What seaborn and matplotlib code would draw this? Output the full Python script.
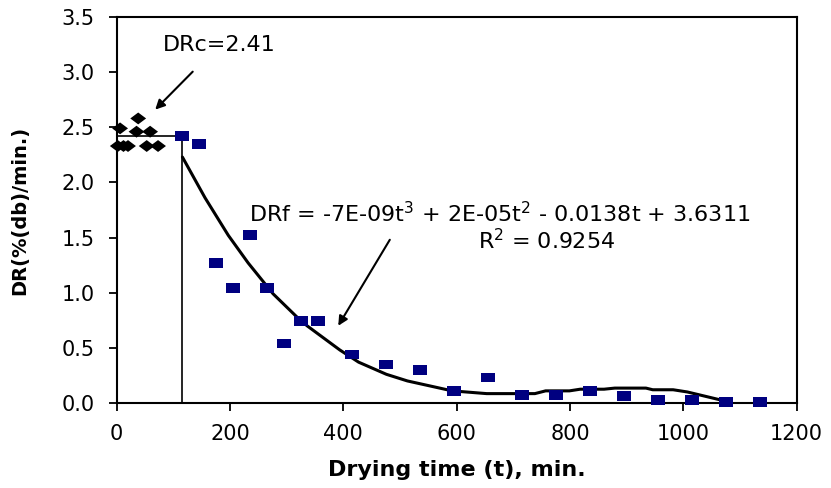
import matplotlib
matplotlib.use("Agg")
import matplotlib.pyplot as plt
from matplotlib.ticker import FormatStrFormatter
import seaborn as sns
import pandas as pd

# -------------------------------
# Data
# -------------------------------
# constant-rate period (diamonds)
t_const = [2, 12, 20, 6, 35, 59, 38, 53, 73]
dr_const = [2.33, 2.33, 2.33, 2.49, 2.46, 2.46, 2.58, 2.33, 2.33]

# falling-rate period (squares)
t_fall = [115, 145, 175, 205, 235, 265, 295, 325, 355, 415, 475, 535,
          595, 655, 715, 775, 835, 895, 955, 1015, 1075, 1135]
dr_fall = [2.42, 2.35, 1.27, 1.04, 1.52, 1.04, 0.54, 0.745, 0.745, 0.44,
           0.35, 0.30, 0.11, 0.23, 0.07, 0.07, 0.11, 0.06, 0.03, 0.03,
           0.01, 0.01]

# fitted falling-rate curve
t_fit = [116, 156, 197, 232, 276, 318, 336, 394, 427, 476, 513, 592, 653,
         738, 757, 799, 818, 860, 879, 934, 946, 982, 1007, 1080]
dr_fit = [2.23, 1.86, 1.52, 1.27, 0.99, 0.78, 0.70, 0.48, 0.37, 0.26, 0.20,
          0.11, 0.085, 0.085, 0.11, 0.11, 0.125, 0.125, 0.135, 0.135, 0.12,
          0.12, 0.10, 0.01]

x_ticks = [0, 200, 400, 600, 800, 1000, 1200]
y_ticks = [0.0, 0.5, 1.0, 1.5, 2.0, 2.5, 3.0, 3.5]

df_const = pd.DataFrame({"t": t_const, "DR": dr_const})
df_fall = pd.DataFrame({"t": t_fall, "DR": dr_fall})
df_fit = pd.DataFrame({"t": t_fit, "DR": dr_fit})

# -------------------------------
# Figure
# -------------------------------
sns.set_style("white")
plt.rcParams["font.family"] = ["DejaVu Sans"]
plt.rcParams["text.color"] = "black"
plt.rcParams["axes.labelcolor"] = "black"

fig = plt.figure(figsize=(8.31, 4.88), dpi=100)
ax = fig.add_axes([0.1404, 0.1742, 0.8183, 0.7910])

diamond = [(-1, 0), (0, 0.75), (1, 0), (0, -0.75)]
rect = [(-1, -0.72), (1, -0.72), (1, 0.72), (-1, 0.72)]

sns.lineplot(data=df_fit, x="t", y="DR", color="black", linewidth=2.2,
             ax=ax, zorder=2)
sns.scatterplot(data=df_const, x="t", y="DR", marker=diamond, s=130,
                color="black", edgecolor="none", ax=ax, zorder=3,
                clip_on=False)
sns.scatterplot(data=df_fall, x="t", y="DR", marker=rect, s=95,
                color="#000080", edgecolor="none", ax=ax, zorder=3,
                clip_on=False)

# critical point lines
drc_t = t_fall[0]
drc_y = dr_fall[0]
ax.plot([0, drc_t], [drc_y, drc_y], color="black", linewidth=1.2, zorder=1)
ax.plot([drc_t, drc_t], [0, drc_y], color="black", linewidth=1.2, zorder=1)

# annotations
ax.annotate("DRc=2.41", xy=(68, 2.66), xytext=(82, 3.25),
            fontsize=16, va="center", ha="left", color="black",
            arrowprops=dict(arrowstyle="-|>", color="black", lw=1.5,
                            shrinkA=14, shrinkB=0, mutation_scale=14))
ax.annotate("", xy=(391, 0.70), xytext=(482, 1.48),
            arrowprops=dict(arrowstyle="-|>", color="black", lw=1.5,
                            shrinkA=0, shrinkB=0, mutation_scale=14))
ax.text(234, 1.72,
        r"DRf = -7E-09t$^{3}$ + 2E-05t$^{2}$ - 0.0138t + 3.6311",
        fontsize=16, ha="left", va="center", color="black")
ax.text(759, 1.47, r"R$^{2}$ = 0.9254", fontsize=16, ha="center",
        va="center", color="black")

ax.set_xlim(0, 1200)
ax.set_ylim(0, 3.5)
ax.set_xticks(x_ticks)
ax.set_yticks(y_ticks)
ax.yaxis.set_major_formatter(FormatStrFormatter("%.1f"))
ax.tick_params(axis="both", direction="out", length=6, width=1.3,
               labelsize=15, colors="black", bottom=True, left=True)
ax.tick_params(axis="x", pad=9)
ax.tick_params(axis="y", pad=10)

for side in ["left", "bottom", "top", "right"]:
    ax.spines[side].set_visible(True)
    ax.spines[side].set_color("black")
    ax.spines[side].set_linewidth(1.5)

ax.set_xlabel("Drying time (t), min.", fontsize=16, fontweight="bold",
              color="black")
ax.set_ylabel("DR(%(db)/min.)", fontsize=14, fontweight="bold",
              color="black")
ax.xaxis.set_label_coords(0.5, -0.148)
ax.yaxis.set_label_coords(-0.128, 0.5)

fig.savefig("out.png", dpi=100)
